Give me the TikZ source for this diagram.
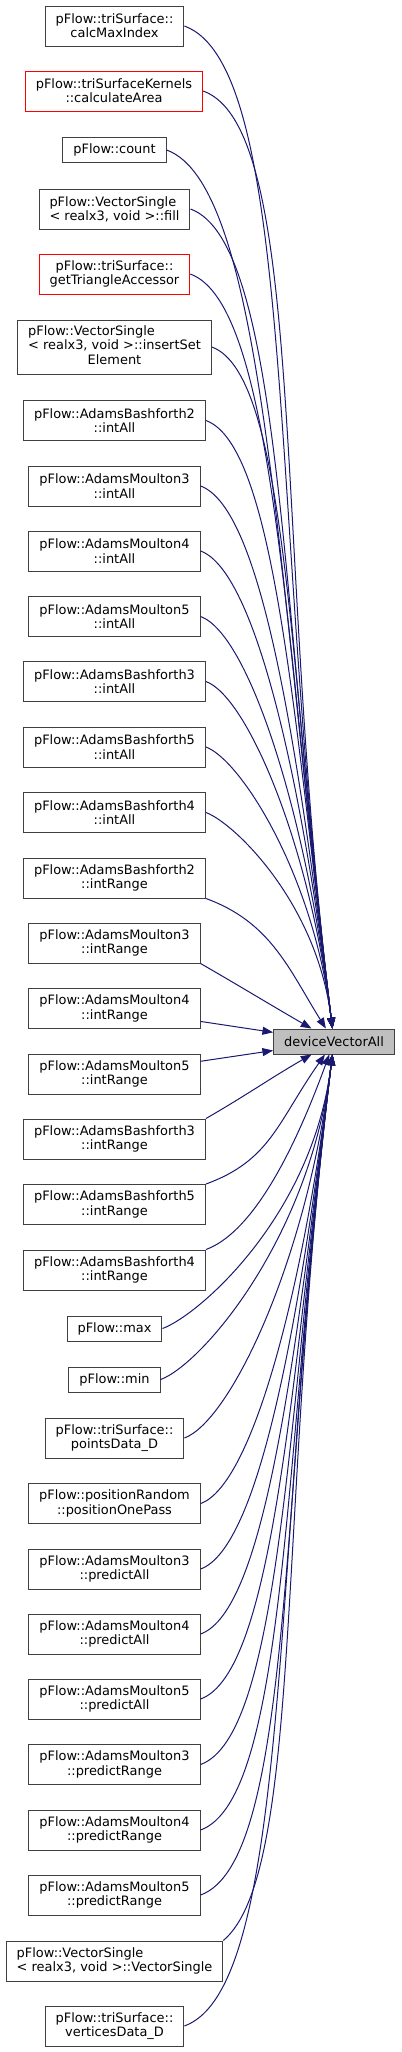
\documentclass[tikz,border=0pt]{standalone}
\usepackage{fontspec}
\setmainfont{DejaVu Sans}
\usetikzlibrary{arrows.meta}
\definecolor{edgeblue}{HTML}{191970}
\definecolor{boxgray}{HTML}{404040}
\definecolor{curgray}{HTML}{BFBFBF}
\tikzset{
    fn/.style={draw=boxgray, fill=white, line width=0.75pt, align=center, inner xsep=7.9pt, inner ysep=0pt, minimum height=30pt, font=\fontsize{9.7}{10.7}\selectfont},
    fnred/.style={fn, draw=red},
    oneline/.style={minimum height=18.75pt},
    threeline/.style={minimum height=40.5pt},
    fncur/.style={fn, fill=curgray, minimum height=18.75pt},
    call/.style={edgeblue, line width=0.75pt, -{Triangle[length=8pt,width=6pt]}},
}

\begin{document}
\begin{tikzpicture}[x=0.75pt,y=0.75pt]
        \useasboundingbox (0,0) rectangle (401,-2052);

        % Funcao chamada
        \node[fncur] (dva) at (334,-1041.5) {deviceVectorAll};

        % Chamadores
        \node[fn] (calc) at (114.5,-26) {pFlow::triSurface::\\calcMaxIndex};
        \node[fnred] (area) at (114,-91) {pFlow::triSurfaceKernels\\::calculateArea};
        \node[fn,oneline] (count) at (114.5,-150) {pFlow::count};
        \node[fn,align=left] (fill) at (114.5,-209) {pFlow::VectorSingle\\< realx3, void >::fill};
        \node[fnred] (tri) at (114.5,-274) {pFlow::triSurface::\\getTriangleAccessor};
        \node[fn,threeline] (ins) at (114.5,-347) {\begin{tabular}{@{}l@{}}pFlow::VectorSingle\\< realx3, void >::insertSet\\\multicolumn{1}{@{}c@{}}{Element}\end{tabular}};
        \node[fn] (ab2a) at (114.5,-420.5) {pFlow::AdamsBashforth2\\::intAll};
        \node[fn] (am3a) at (114.5,-486) {pFlow::AdamsMoulton3\\::intAll};
        \node[fn] (am4a) at (114.5,-551) {pFlow::AdamsMoulton4\\::intAll};
        \node[fn] (am5a) at (114.5,-616.5) {pFlow::AdamsMoulton5\\::intAll};
        \node[fn] (ab3a) at (114.5,-681.5) {pFlow::AdamsBashforth3\\::intAll};
        \node[fn] (ab5a) at (114.5,-747) {pFlow::AdamsBashforth5\\::intAll};
        \node[fn] (ab4a) at (114.5,-812.5) {pFlow::AdamsBashforth4\\::intAll};
        \node[fn] (ab2r) at (114.5,-878) {pFlow::AdamsBashforth2\\::intRange};
        \node[fn] (am3r) at (114.5,-943) {pFlow::AdamsMoulton3\\::intRange};
        \node[fn] (am4r) at (114.5,-1008.5) {pFlow::AdamsMoulton4\\::intRange};
        \node[fn] (am5r) at (114.5,-1074) {pFlow::AdamsMoulton5\\::intRange};
        \node[fn] (ab3r) at (114.5,-1139) {pFlow::AdamsBashforth3\\::intRange};
        \node[fn] (ab5r) at (114.5,-1204.5) {pFlow::AdamsBashforth5\\::intRange};
        \node[fn] (ab4r) at (114.5,-1270) {pFlow::AdamsBashforth4\\::intRange};
        \node[fn,oneline] (max) at (114.5,-1328.5) {pFlow::max};
        \node[fn,oneline] (min) at (114.5,-1379.5) {pFlow::min};
        \node[fn] (pts) at (114.5,-1438) {pFlow::triSurface::\\pointsData\_D};
        \node[fn] (pos) at (114.5,-1503.5) {pFlow::positionRandom\\::positionOnePass};
        \node[fn] (am3p) at (114.5,-1569) {pFlow::AdamsMoulton3\\::predictAll};
        \node[fn] (am4p) at (114.5,-1634) {pFlow::AdamsMoulton4\\::predictAll};
        \node[fn] (am5p) at (114.5,-1699) {pFlow::AdamsMoulton5\\::predictAll};
        \node[fn] (am3pr) at (114.5,-1764.5) {pFlow::AdamsMoulton3\\::predictRange};
        \node[fn] (am4pr) at (114.5,-1830) {pFlow::AdamsMoulton4\\::predictRange};
        \node[fn] (am5pr) at (114.5,-1895) {pFlow::AdamsMoulton5\\::predictRange};
        \node[fn,align=left] (vs) at (114.5,-1961) {pFlow::VectorSingle\\< realx3, void >::VectorSingle};
        \node[fn] (vert) at (114.5,-2026) {pFlow::triSurface::\\verticesData\_D};

        % Chamadas vindas de cima
        \foreach \n in {calc,area,count,fill,tri,ins,ab2a,am3a,am4a,am5a,ab3a,ab5a,ab4a}
            \draw[call] (\n.east) to[out=-20, in=97, out looseness=0.3, in looseness=1.3] (dva);
        \draw[call] (ab2r.south east) to[out=-20, in=122] (dva);
        \draw[call] (am3r.south east) to[out=-30, in=150] (dva);

        % Chamadas ao lado
        \draw[call] (am4r) -- (dva);
        \draw[call] (am5r) -- (dva);

        % Chamadas vindas de baixo
        \draw[call] (ab3r.north east) to[out=30, in=-150] (dva);
        \draw[call] (ab5r.north east) to[out=20, in=-125, in looseness=1.2] (dva);
        \draw[call] (ab4r.north east) to[out=20, in=-110, out looseness=0.5, in looseness=1.3] (dva);
        \foreach \n in {max,min,pts,pos,am3p,am4p,am5p,am3pr,am4pr,am5pr,vert}
            \draw[call] (\n.east) to[out=20, in=-97, out looseness=0.3, in looseness=1.3] (dva);
        \draw[call] (vs.north east) to[out=40, in=-97, out looseness=0.3, in looseness=1.3] (dva);

    \end{tikzpicture}
\end{document}
